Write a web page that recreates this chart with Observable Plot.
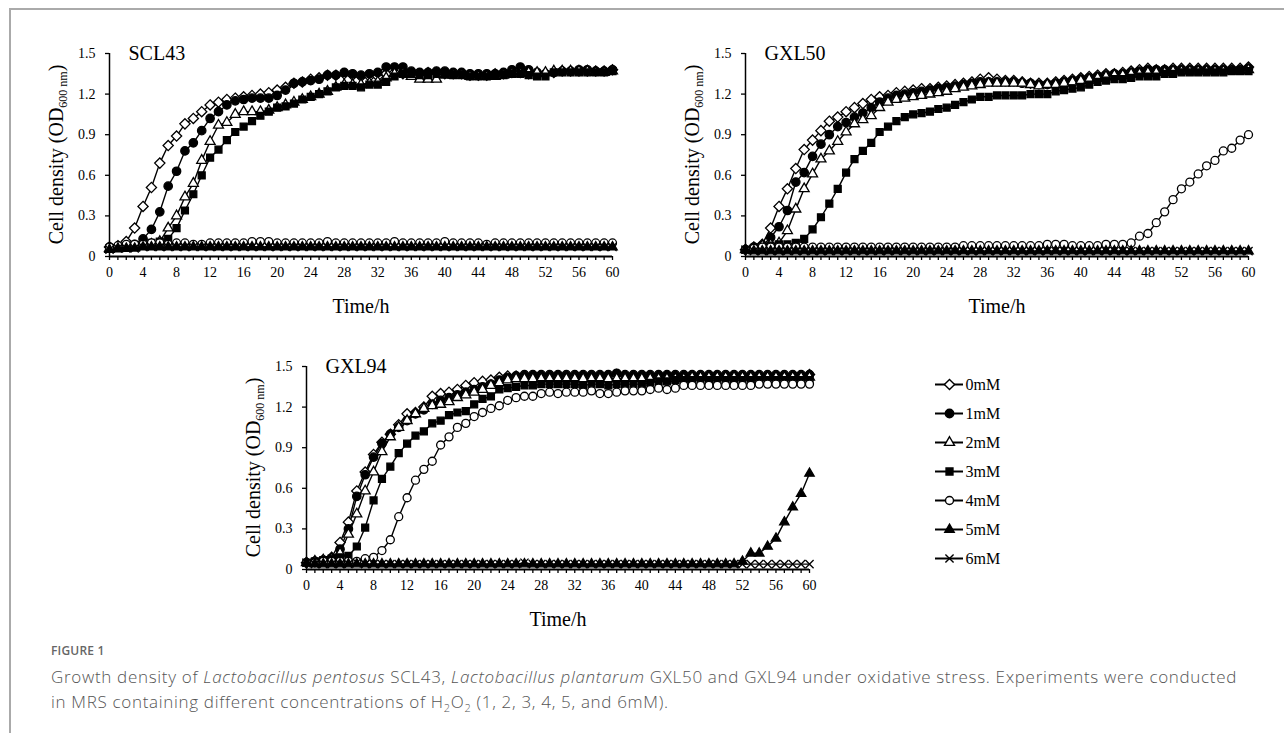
<!DOCTYPE html>
<html><head><meta charset="utf-8">
<script src="https://cdn.jsdelivr.net/npm/d3@7"></script>
<script src="https://cdn.jsdelivr.net/npm/@observablehq/plot@0.6"></script>
<style>
body{margin:0;background:#fff;width:1284px;height:733px;overflow:hidden;position:relative;}
.frame{position:absolute;left:9px;top:8px;width:1280px;height:730px;border-top:2px solid #aaa;border-left:2px solid #aaa;}
.abs{position:absolute;}
.caplabel{position:absolute;left:51px;top:642px;font-family:"Open Sans";font-size:12px;font-weight:600;color:#666;letter-spacing:0.2px;}
.capline{position:absolute;left:51px;font-family:"Open Sans";font-size:17px;font-weight:300;line-height:25px;color:#555;white-space:nowrap;}
.capline sub{font-size:11px;line-height:0;}
</style></head>
<body>
<div class="frame"></div>
<div id="p1" class="abs" style="left:0px;top:0px"></div>
<div id="p2" class="abs" style="left:640px;top:0px"></div>
<div id="p3" class="abs" style="left:200px;top:313px"></div>
<div id="leg" class="abs" style="left:900px;top:340px"></div>
<div class="caplabel">FIGURE 1</div>
<div class="capline" id="cap1" style="top:664px"><span id="cap1s">Growth density of <i>Lactobacillus pentosus</i> SCL43, <i>Lactobacillus plantarum</i> GXL50 and GXL94 under oxidative stress. Experiments were conducted</span></div>
<div class="capline" id="cap2" style="top:689px">in MRS containing different concentrations of H<sub>2</sub>O<sub>2</sub> (1, 2, 3, 4, 5, and 6mM).</div>
<script>
// ---------- data ----------
const hours = [0,1,2,3,4,5,6,7,8,9,10,11,12,13,14,15,16,17,18,19,20,21,22,23,24,25,26,27,28,29,30,
  31,32,33,34,35,36,37,38,39,40,41,42,43,44,45,46,47,48,49,50,51,52,53,54,55,56,57,58,59,60];
const xTickLabels = [0,4,8,12,16,20,24,28,32,36,40,44,48,52,56,60];
const yTicks = [0,0.3,0.6,0.9,1.2,1.5];
const yTickLabels = ["0","0.3","0.6","0.9","1.2","1.5"];
const concentrations = ["0mM","1mM","2mM","3mM","4mM","5mM","6mM"];
const panelNames = ["SCL43","GXL50","GXL94"];

const scl43_0 = [0.07,0.08,0.11,0.21,0.37,0.51,0.69,0.82,0.89,0.98,
 1.02,1.07,1.12,1.14,1.16,1.17,1.18,1.19,1.20,1.21,
 1.23,1.25,1.28,1.29,1.31,1.32,1.34,1.34,1.35,1.34,
 1.33,1.33,1.33,1.35,1.36,1.35,1.35,1.35,1.36,1.36,
 1.35,1.35,1.35,1.34,1.34,1.34,1.35,1.35,1.36,1.36,
 1.35,1.35,1.35,1.36,1.37,1.37,1.37,1.37,1.37,1.37,1.38];
const scl43_1 = [0.07,0.07,0.08,0.09,0.13,0.20,0.33,0.52,0.63,0.78,
 0.84,0.93,1.02,1.07,1.12,1.15,1.16,1.17,1.17,1.17,
 1.19,1.23,1.28,1.29,1.30,1.31,1.34,1.34,1.36,1.35,
 1.34,1.35,1.36,1.40,1.40,1.40,1.37,1.36,1.36,1.37,
 1.37,1.36,1.36,1.35,1.35,1.35,1.35,1.36,1.38,1.40,
 1.38,1.36,1.35,1.36,1.37,1.37,1.38,1.38,1.37,1.37,1.38];
const scl43_2 = [0.06,0.06,0.06,0.07,0.08,0.09,0.11,0.21,0.30,0.44,
 0.54,0.71,0.85,0.97,0.99,1.05,1.07,1.07,1.07,1.08,
 1.10,1.12,1.14,1.16,1.18,1.20,1.22,1.25,1.27,1.27,
 1.27,1.28,1.29,1.32,1.35,1.35,1.33,1.31,1.31,1.31,
 1.34,1.34,1.34,1.33,1.33,1.33,1.33,1.34,1.35,1.35,
 1.36,1.36,1.36,1.37,1.37,1.37,1.37,1.37,1.36,1.36,1.37];
const scl43_3 = [0.06,0.06,0.07,0.08,0.09,0.10,0.11,0.13,0.21,0.34,
 0.46,0.60,0.73,0.79,0.86,0.92,0.96,1.00,1.04,1.07,
 1.10,1.11,1.13,1.16,1.18,1.20,1.22,1.25,1.26,1.26,
 1.25,1.27,1.27,1.29,1.33,1.35,1.35,1.34,1.34,1.35,
 1.35,1.34,1.34,1.33,1.33,1.33,1.34,1.34,1.35,1.35,
 1.34,1.33,1.33,1.36,1.36,1.36,1.36,1.36,1.36,1.36,1.37];
const scl43_4 = [0.07,0.08,0.09,0.09,0.09,0.10,0.10,0.09,0.10,0.10,
 0.09,0.09,0.10,0.10,0.10,0.10,0.10,0.11,0.11,0.11,
 0.10,0.10,0.10,0.10,0.10,0.10,0.11,0.10,0.10,0.10,
 0.10,0.10,0.10,0.10,0.11,0.10,0.10,0.10,0.10,0.10,
 0.11,0.10,0.10,0.10,0.10,0.09,0.10,0.10,0.10,0.10,
 0.10,0.10,0.10,0.10,0.10,0.10,0.10,0.10,0.10,0.10,0.10];
const scl43_5 = [0.05,0.06,0.06,0.06,0.07,0.07,0.07,0.07,0.07,0.07,
 0.07,0.07,0.07,0.07,0.07,0.07,0.07,0.07,0.07,0.07,
 0.07,0.07,0.07,0.07,0.07,0.07,0.07,0.07,0.07,0.07,
 0.07,0.07,0.07,0.07,0.07,0.07,0.07,0.07,0.07,0.07,
 0.07,0.07,0.07,0.07,0.07,0.07,0.07,0.07,0.07,0.07,
 0.07,0.07,0.07,0.07,0.07,0.07,0.07,0.07,0.07,0.07,0.07];
const scl43_6 = [0.05,0.06,0.06,0.06,0.07,0.07,0.07,0.07,0.07,0.07,
 0.07,0.07,0.07,0.07,0.07,0.07,0.07,0.07,0.07,0.07,
 0.07,0.07,0.07,0.07,0.07,0.07,0.07,0.07,0.07,0.07,
 0.07,0.07,0.07,0.07,0.07,0.07,0.07,0.07,0.07,0.07,
 0.07,0.07,0.07,0.07,0.07,0.07,0.07,0.07,0.07,0.07,
 0.07,0.07,0.07,0.07,0.07,0.07,0.07,0.07,0.07,0.07,0.07];

const gxl50_0 = [0.05,0.07,0.09,0.21,0.37,0.50,0.65,0.79,0.86,0.93,
 1.00,1.03,1.07,1.10,1.13,1.16,1.18,1.19,1.21,1.22,
 1.23,1.24,1.24,1.25,1.26,1.27,1.28,1.29,1.31,1.32,
 1.31,1.30,1.30,1.29,1.28,1.28,1.28,1.29,1.30,1.31,
 1.32,1.33,1.34,1.35,1.35,1.36,1.37,1.38,1.39,1.38,
 1.38,1.39,1.39,1.39,1.39,1.39,1.39,1.39,1.39,1.39,1.40];
const gxl50_1 = [0.05,0.07,0.08,0.14,0.22,0.34,0.55,0.62,0.74,0.83,
 0.90,0.96,0.99,1.03,1.06,1.10,1.14,1.17,1.19,1.20,
 1.21,1.22,1.23,1.24,1.25,1.26,1.27,1.28,1.29,1.29,
 1.29,1.29,1.29,1.28,1.28,1.27,1.27,1.28,1.29,1.30,
 1.31,1.32,1.33,1.34,1.35,1.35,1.36,1.37,1.38,1.38,
 1.38,1.38,1.38,1.38,1.38,1.38,1.38,1.38,1.38,1.38,1.39];
const gxl50_2 = [0.05,0.06,0.08,0.09,0.10,0.19,0.35,0.50,0.61,0.72,
 0.78,0.85,0.92,0.98,1.01,1.04,1.10,1.14,1.16,1.17,
 1.18,1.19,1.20,1.21,1.22,1.24,1.25,1.26,1.27,1.28,
 1.28,1.28,1.28,1.28,1.27,1.26,1.27,1.27,1.28,1.29,
 1.30,1.31,1.32,1.33,1.34,1.34,1.35,1.35,1.36,1.36,
 1.36,1.37,1.37,1.37,1.37,1.37,1.37,1.37,1.37,1.37,1.38];
const gxl50_3 = [0.05,0.06,0.07,0.08,0.09,0.09,0.10,0.13,0.20,0.29,
 0.39,0.50,0.62,0.72,0.78,0.84,0.92,0.96,1.00,1.03,
 1.05,1.06,1.07,1.09,1.10,1.12,1.14,1.16,1.18,1.18,
 1.19,1.19,1.19,1.19,1.20,1.20,1.20,1.22,1.23,1.24,
 1.25,1.27,1.29,1.30,1.31,1.31,1.32,1.33,1.33,1.33,
 1.35,1.35,1.36,1.36,1.36,1.36,1.36,1.36,1.37,1.37,1.37];
const gxl50_4 = [0.05,0.06,0.07,0.07,0.07,0.07,0.07,0.07,0.07,0.07,
 0.07,0.07,0.07,0.07,0.07,0.07,0.07,0.07,0.07,0.07,
 0.07,0.07,0.07,0.07,0.07,0.07,0.08,0.08,0.08,0.08,
 0.08,0.08,0.08,0.08,0.08,0.08,0.09,0.09,0.09,0.08,
 0.08,0.08,0.08,0.09,0.09,0.09,0.10,0.15,0.17,0.25,
 0.33,0.42,0.50,0.55,0.61,0.67,0.71,0.78,0.80,0.86,0.90];
const gxl50_5 = [0.05,0.04,0.04,0.04,0.04,0.04,0.04,0.04,0.04,0.04,
 0.04,0.04,0.04,0.04,0.04,0.04,0.04,0.04,0.04,0.04,
 0.04,0.04,0.04,0.04,0.04,0.04,0.04,0.04,0.04,0.04,
 0.04,0.04,0.04,0.04,0.04,0.04,0.04,0.04,0.04,0.04,
 0.04,0.04,0.04,0.04,0.04,0.04,0.04,0.04,0.04,0.04,
 0.04,0.04,0.04,0.04,0.04,0.04,0.04,0.04,0.04,0.04,0.04];
const gxl50_6 = [0.05,0.04,0.04,0.04,0.04,0.04,0.04,0.04,0.04,0.04,
 0.04,0.04,0.04,0.04,0.04,0.04,0.04,0.04,0.04,0.04,
 0.04,0.04,0.04,0.04,0.04,0.04,0.04,0.04,0.04,0.04,
 0.04,0.04,0.04,0.04,0.04,0.04,0.04,0.04,0.04,0.04,
 0.04,0.04,0.04,0.04,0.04,0.04,0.04,0.04,0.04,0.04,
 0.04,0.04,0.04,0.04,0.04,0.04,0.04,0.04,0.04,0.04,0.04];

const gxl94_0 = [0.05,0.06,0.07,0.09,0.20,0.35,0.58,0.72,0.85,0.94,
 1.00,1.07,1.15,1.16,1.20,1.28,1.30,1.31,1.33,1.36,
 1.38,1.39,1.40,1.42,1.43,1.43,1.43,1.43,1.43,1.43,
 1.43,1.43,1.43,1.43,1.43,1.43,1.43,1.44,1.43,1.43,
 1.43,1.43,1.43,1.43,1.43,1.43,1.43,1.43,1.43,1.43,
 1.43,1.43,1.43,1.43,1.43,1.43,1.43,1.43,1.43,1.43,1.44];
const gxl94_1 = [0.05,0.06,0.07,0.08,0.15,0.30,0.54,0.70,0.83,0.93,
 1.00,1.05,1.10,1.15,1.18,1.22,1.25,1.27,1.29,1.31,
 1.33,1.35,1.37,1.40,1.42,1.43,1.44,1.44,1.44,1.44,
 1.44,1.44,1.44,1.44,1.44,1.44,1.44,1.45,1.44,1.44,
 1.44,1.44,1.44,1.44,1.44,1.44,1.44,1.44,1.44,1.44,
 1.44,1.44,1.44,1.44,1.44,1.44,1.44,1.44,1.44,1.44,1.44];
const gxl94_2 = [0.05,0.06,0.07,0.08,0.12,0.26,0.41,0.58,0.72,0.87,
 0.98,1.05,1.10,1.15,1.19,1.21,1.22,1.24,1.27,1.29,
 1.31,1.33,1.36,1.38,1.40,1.41,1.41,1.41,1.41,1.41,
 1.41,1.41,1.41,1.41,1.41,1.41,1.41,1.41,1.41,1.41,
 1.41,1.41,1.41,1.41,1.41,1.41,1.42,1.42,1.42,1.42,
 1.42,1.42,1.42,1.42,1.42,1.42,1.42,1.42,1.42,1.42,1.42];
const gxl94_3 = [0.05,0.06,0.07,0.08,0.09,0.10,0.17,0.31,0.51,0.67,
 0.76,0.86,0.93,0.99,1.02,1.08,1.10,1.14,1.16,1.17,
 1.22,1.26,1.28,1.33,1.34,1.35,1.36,1.36,1.37,1.37,
 1.37,1.37,1.37,1.36,1.37,1.37,1.36,1.37,1.37,1.37,
 1.37,1.38,1.39,1.39,1.40,1.40,1.40,1.40,1.40,1.40,
 1.40,1.40,1.40,1.40,1.40,1.40,1.40,1.40,1.40,1.40,1.40];
const gxl94_4 = [0.05,0.05,0.06,0.06,0.06,0.06,0.06,0.08,0.09,0.14,
 0.22,0.39,0.53,0.66,0.74,0.80,0.92,0.98,1.05,1.08,
 1.13,1.16,1.19,1.21,1.25,1.27,1.28,1.28,1.30,1.31,
 1.30,1.31,1.31,1.31,1.32,1.30,1.30,1.31,1.32,1.32,
 1.32,1.33,1.34,1.33,1.34,1.36,1.36,1.36,1.36,1.36,
 1.36,1.36,1.36,1.36,1.37,1.37,1.37,1.37,1.37,1.37,1.37];
const gxl94_5 = [0.05,0.04,0.04,0.04,0.04,0.04,0.04,0.04,0.04,0.04,
 0.04,0.04,0.04,0.04,0.04,0.04,0.04,0.04,0.04,0.04,
 0.04,0.04,0.04,0.04,0.04,0.04,0.04,0.04,0.04,0.04,
 0.04,0.04,0.04,0.04,0.04,0.04,0.04,0.04,0.04,0.04,
 0.04,0.04,0.04,0.04,0.04,0.04,0.04,0.04,0.04,0.04,
 0.04,0.04,0.06,0.12,0.12,0.17,0.23,0.35,0.46,0.56,0.71];
const gxl94_6 = [0.05,0.04,0.04,0.04,0.04,0.04,0.05,0.04,0.04,0.04,
 0.04,0.04,0.04,0.04,0.04,0.04,0.04,0.04,0.04,0.04,
 0.04,0.04,0.04,0.04,0.04,0.04,0.05,0.04,0.04,0.04,
 0.04,0.04,0.04,0.04,0.04,0.04,0.04,0.04,0.04,0.04,
 0.04,0.04,0.04,0.04,0.04,0.04,0.04,0.04,0.04,0.04,
 0.04,0.04,0.04,0.04,0.04,0.04,0.04,0.04,0.04,0.04,0.04];

// ---------- styles ----------
const markerStyle = {
  "0mM": {symbol: "diamond2", fill: "white", r: 4.6},
  "1mM": {symbol: "circle",   fill: "black", r: 4.2},
  "2mM": {symbol: "triangle", fill: "white", r: 3.7},
  "3mM": {symbol: "square",   fill: "black", r: 3.9},
  "4mM": {symbol: "circle",   fill: "white", r: 4.0},
  "5mM": {symbol: "triangle", fill: "black", r: 3.5},
  "6mM": {symbol: "times",    fill: "none",  r: 3.8}
};
const serif = "Liberation Serif, Times New Roman, serif";

function buildRows(seriesList) {
  const rows = [];
  concentrations.forEach((c, i) => {
    seriesList[i].forEach((v, j) => rows.push({h: hours[j], v, c}));
  });
  return rows;
}

function panel(name, seriesList, marginLeft) {
  const rows = buildRows(seriesList);
  const width = 640, height = 328, marginTop = 53, marginBottom = 72;
  const marginRight = width - marginLeft - 503;
  const marks = [];
  concentrations.forEach(c => {
    marks.push(Plot.line(rows.filter(d => d.c === c), {x: "h", y: "v", stroke: "black", strokeWidth: 1.4}));
  });
  concentrations.forEach(c => {
    const s = markerStyle[c];
    marks.push(Plot.dot(rows.filter(d => d.c === c), {
      x: "h", y: "v", symbol: s.symbol, r: s.r, fill: s.fill,
      stroke: "black", strokeWidth: 1.3
    }));
  });
  marks.push(
    Plot.ruleY([0], {stroke: "black", strokeWidth: 2.2}),
    Plot.ruleX([0], {stroke: "black", strokeWidth: 1.5}),
    Plot.axisX({ticks: hours, tickSize: 4, tickPadding: 7, strokeWidth: 1.3,
      tickFormat: d => xTickLabels.includes(d) ? String(d) : "", fontSize: 14, label: null}),
    Plot.axisY({ticks: yTicks, tickSize: 4, tickPadding: 10, strokeWidth: 1.3,
      tickFormat: d => yTickLabels[yTicks.indexOf(d)], fontSize: 14, label: null}),
    Plot.text([name], {frameAnchor: "top-left", text: d => d, dx: 19, textAnchor: "start",
      lineAnchor: "middle", fontSize: 20, fill: "black"}),
    Plot.text(["Time/h"], {frameAnchor: "bottom", text: d => d, dy: 50, lineAnchor: "middle",
      fontSize: 20, fill: "black"})
  );
  const svg = Plot.plot({
    width, height, marginTop, marginBottom, marginLeft, marginRight,
    x: {domain: [0, 60]},
    y: {domain: [0, 1.5]},
    style: {fontFamily: serif, color: "black", background: "transparent", overflow: "visible"},
    marks
  });
  const cy = (marginTop + height - marginBottom) / 2;
  const t = d3.select(svg).append("text")
    .attr("transform", `translate(${marginLeft - 53},${cy}) rotate(-90)`)
    .attr("text-anchor", "middle").attr("dy", "0.35em")
    .attr("font-family", serif).attr("font-size", 20).attr("fill", "black");
  t.append("tspan").text("Cell density (OD");
  t.append("tspan").attr("font-size", 12).attr("dy", 4).text("600 nm");
  t.append("tspan").attr("dy", -4).text(")");
  return svg;
}

document.getElementById("p1").appendChild(panel(panelNames[0],
  [scl43_0, scl43_1, scl43_2, scl43_3, scl43_4, scl43_5, scl43_6], 109));
document.getElementById("p2").appendChild(panel(panelNames[1],
  [gxl50_0, gxl50_1, gxl50_2, gxl50_3, gxl50_4, gxl50_5, gxl50_6], 105));
document.getElementById("p3").appendChild(panel(panelNames[2],
  [gxl94_0, gxl94_1, gxl94_2, gxl94_3, gxl94_4, gxl94_5, gxl94_6], 106));

// ---------- legend ----------
const legMarks = [
  Plot.ruleY(concentrations, {y: d => d, x1: 0, x2: 1, stroke: "black", strokeWidth: 2})
];
concentrations.forEach(c => {
  const s = markerStyle[c];
  legMarks.push(Plot.dot([c], {x: 0.5, y: d => d, symbol: s.symbol, r: s.r, fill: s.fill,
    stroke: "black", strokeWidth: 1.4}));
});
legMarks.push(Plot.text(concentrations, {x: 1, y: d => d, text: d => d, dx: 2, textAnchor: "start",
  fontSize: 16, fill: "black"}));
document.getElementById("leg").appendChild(Plot.plot({
  width: 150, height: 260, marginTop: 0, marginBottom: 0, marginLeft: 0, marginRight: 0,
  x: {domain: [0, 1], range: [35, 63], axis: null},
  y: {type: "point", domain: concentrations, range: [27, 235], axis: null},
  style: {fontFamily: serif, color: "black", background: "transparent", overflow: "visible"},
  marks: legMarks
}));

// ---------- caption fit: first line ends near the right edge as in the figure ----------
(function fitCaption() {
  const s = document.getElementById("cap1s");
  const w = s.getBoundingClientRect().width;
  const n = s.textContent.length;
  const target = 1186;
  const ls = Math.max(-0.5, Math.min(1.5, (target - w) / n));
  document.getElementById("cap1").style.letterSpacing = ls + "px";
  document.getElementById("cap2").style.letterSpacing = ls + "px";
})();
</script>
</body></html>
